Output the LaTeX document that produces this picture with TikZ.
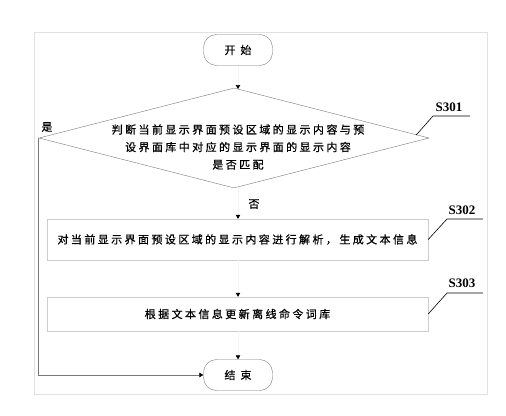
\documentclass[tikz,border=0pt]{standalone}
\usepackage{fontspec}
\usepackage{tikz}
\usetikzlibrary{shapes.geometric,arrows.meta}
\newfontfamily\cjk[LetterSpace=22,FakeBold=0.7]{Noto Sans CJK SC}
\newfontfamily\stepfont{Liberation Serif}
\definecolor{edge}{RGB}{120,120,120}
\definecolor{boxline}{RGB}{205,205,205}
\definecolor{frameline}{RGB}{225,225,225}
\definecolor{flowline}{RGB}{244,244,244}

\tikzset{
    terminal/.style={draw=edge,rounded corners=13pt,minimum width=69pt,minimum height=31pt,inner sep=0pt,font=\cjk\fontsize{11}{13}\selectfont},
    decision/.style={draw=edge,diamond,aspect=3.9,minimum width=390pt,minimum height=100pt,inner sep=0pt},
    stepbox/.style={draw=boxline,rectangle,minimum width=381pt,inner sep=0pt,font=\cjk\fontsize{11}{13}\selectfont},
    flow/.style={draw=flowline,line width=0.6pt,-{Triangle[black,width=4.5pt,length=4pt]}},
    leader/.style={draw=black,line width=0.6pt},
    steplabel/.style={font=\stepfont\bfseries\fontsize{13}{15}\selectfont,inner sep=0pt}
}

\begin{document}
\begin{tikzpicture}[x=1pt,y=-1pt]
        \useasboundingbox (0,0) rectangle (506,415);
        \draw[frameline,line width=0.6pt] (34,32) rectangle (487,394);

        % flow nodes
        \node[terminal] (start) at (238,50) {开\hspace{5pt}始};
        \node[decision] (s301) at (234,138) {};
        \node[font=\cjk\fontsize{11}{17.5}\selectfont,align=center] (s301text) at (238,147) {判断当前显示界面预设区域的显示内容与预\\设界面库中对应的显示界面的显示内容\\是否匹配};
        \node[stepbox,minimum height=41pt] (s302) at (237.5,239.5) {对当前显示界面预设区域的显示内容进行解析，生成文本信息};
        \node[stepbox,minimum height=34pt] (s303) at (237.5,314) {根据文本信息更新离线命令词库};
        \node[terminal] (end) at (238,375) {结\hspace{5pt}束};

        % branch labels
        \node[font=\cjk\fontsize{11}{13}\selectfont] (yes) at (47,127) {是};
        \node[font=\cjk\fontsize{11}{13}\selectfont] (no) at (254,204) {否};

        % connectors
        \draw[flow] (start.south) -- (238,89);
        \draw[flow] (238,188) -- (s302.north -| start);
        \draw[flow] (s302.south -| start) -- (s303.north -| start);
        \draw[flow] (s303.south -| start) -- (end.north);
        \draw[edge,line width=0.6pt,-{Triangle[black,width=4.5pt,length=4pt]}] (s301.west) -- ++(-1,0) |- (end.west);

        % step numbers
        \node[steplabel] (l301) at (449,107) {S301};
        \node[steplabel] (l302) at (462,210) {S302};
        \node[steplabel] (l303) at (462,283) {S303};
        \coordinate (k301) at (433,116);
        \coordinate (k302) at (447,219);
        \coordinate (k303) at (447,293);
        \draw[leader] ([xshift=-13pt,yshift=3pt]s301.east) -- (k301) -- ++(37,0);
        \draw[leader] (s302.east) -- (k302) -- ++(36,0);
        \draw[leader] (s303.east) -- (k303) -- ++(36,0);
    \end{tikzpicture}
\end{document}
